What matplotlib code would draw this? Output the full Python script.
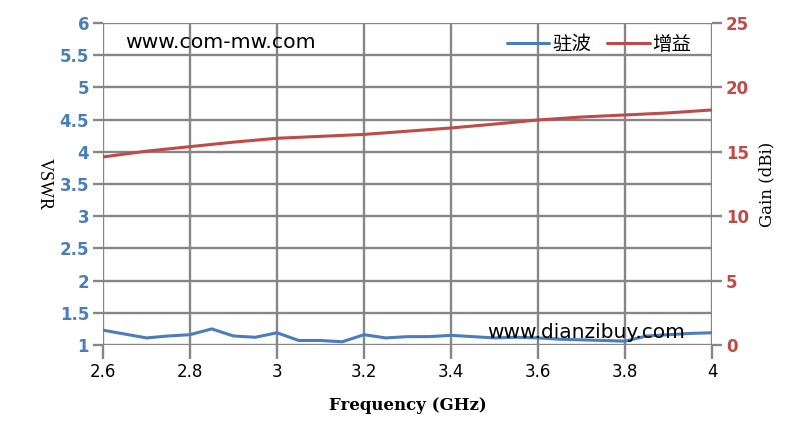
import matplotlib
matplotlib.use("Agg")
import matplotlib.pyplot as plt

freq = [2.6, 2.65, 2.7, 2.75, 2.8, 2.85, 2.9, 2.95, 3.0, 3.05, 3.1, 3.15, 3.2, 3.25, 3.3,
        3.35, 3.4, 3.45, 3.5, 3.55, 3.6, 3.65, 3.7, 3.75, 3.8, 3.85, 3.9, 3.95, 4.0]
vswr = [1.23, 1.17, 1.11, 1.14, 1.16, 1.25, 1.14, 1.12, 1.19, 1.07, 1.07, 1.05, 1.16, 1.11, 1.13,
        1.13, 1.15, 1.13, 1.11, 1.12, 1.11, 1.09, 1.08, 1.07, 1.06, 1.14, 1.16, 1.18, 1.19]

gain_freq = [2.6, 2.7, 2.8, 2.9, 3.0, 3.1, 3.2, 3.3, 3.4, 3.5, 3.6, 3.7, 3.8, 3.9, 4.0]
gain = [14.6, 15.05, 15.4, 15.75, 16.05, 16.2, 16.35, 16.6, 16.85, 17.15, 17.47, 17.7, 17.86, 18.02, 18.25]

x_ticks = [2.6, 2.8, 3.0, 3.2, 3.4, 3.6, 3.8, 4.0]
x_labels = ["2.6", "2.8", "3", "3.2", "3.4", "3.6", "3.8", "4"]
vswr_ticks = [1, 1.5, 2, 2.5, 3, 3.5, 4, 4.5, 5, 5.5, 6]
vswr_labels = ["1", "1.5", "2", "2.5", "3", "3.5", "4", "4.5", "5", "5.5", "6"]
gain_ticks = [0, 5, 10, 15, 20, 25]

BLUE = "#4A7EBB"
RED = "#BE4B48"
GRID = "#868686"

plt.rcParams['font.family'] = ['DejaVu Sans']
fig = plt.figure(figsize=(8.11, 4.32), dpi=100)
ax = fig.add_axes([103/811, 1-345/432, (712-103)/811, (345-23)/432])
ax2 = ax.twinx()

ax.set_xlim(2.6, 4.0)
ax.set_ylim(1, 6)
ax2.set_ylim(0, 25)

for a in (ax, ax2):
    for s in a.spines.values():
        s.set_visible(False)

ax.set_xticks(x_ticks)
ax.set_xticklabels(x_labels, fontsize=12, color="black")
ax.set_yticks(vswr_ticks)
ax.set_yticklabels(vswr_labels, fontsize=12, color=BLUE, fontweight="bold")
ax2.set_yticks(gain_ticks)
ax2.set_yticklabels([str(t) for t in gain_ticks], fontsize=12, color=RED, fontweight="bold")

ax.tick_params(axis="x", length=10, width=1.7, color=GRID, pad=3, direction="out")
ax.tick_params(axis="y", length=7, width=1.7, color=GRID, pad=3)
ax2.tick_params(axis="y", length=7, width=1.7, color=GRID, pad=3)

ax.grid(True, color=GRID, linewidth=1.7)
ax.set_axisbelow(True)

l1, = ax.plot(freq, vswr, color=BLUE, linewidth=2.2, solid_capstyle="round", zorder=3)
l2, = ax2.plot(gain_freq, gain, color=RED, linewidth=2.2, solid_capstyle="round", zorder=3)

ax.set_xlabel("Frequency (GHz)", fontsize=12, fontweight="bold", family="DejaVu Serif")
ax.xaxis.set_label_coords(0.5, -0.16)
ax.set_ylabel("VSWR", fontsize=13, family="Liberation Serif", rotation=270, va="center", ha="center")
ax.yaxis.set_label_coords((44 - 103) / 609, 0.5)
ax2.set_ylabel("Gain (dBi)", fontsize=12, family="DejaVu Serif", rotation=90, va="center", ha="center")
ax2.yaxis.set_label_coords((767 - 103) / 609, 0.5)

leg = ax.legend([l1, l2], ["驻波", "增益"], loc="upper right", bbox_to_anchor=(0.995, 1.02),
                ncol=2, frameon=False, handlelength=2.2, columnspacing=0.8,
                handletextpad=0.15, prop={"family": ["Noto Sans CJK SC"], "size": 14})

fig.text(125/811, 1-42/432, "www.com-mw.com", fontsize=14.7, color="black", va="center", ha="left")
fig.text(487/811, 1-332/432, "www.dianzibuy.com", fontsize=14.5, color="black", va="center", ha="left")

fig.savefig("out.png", dpi=100)
